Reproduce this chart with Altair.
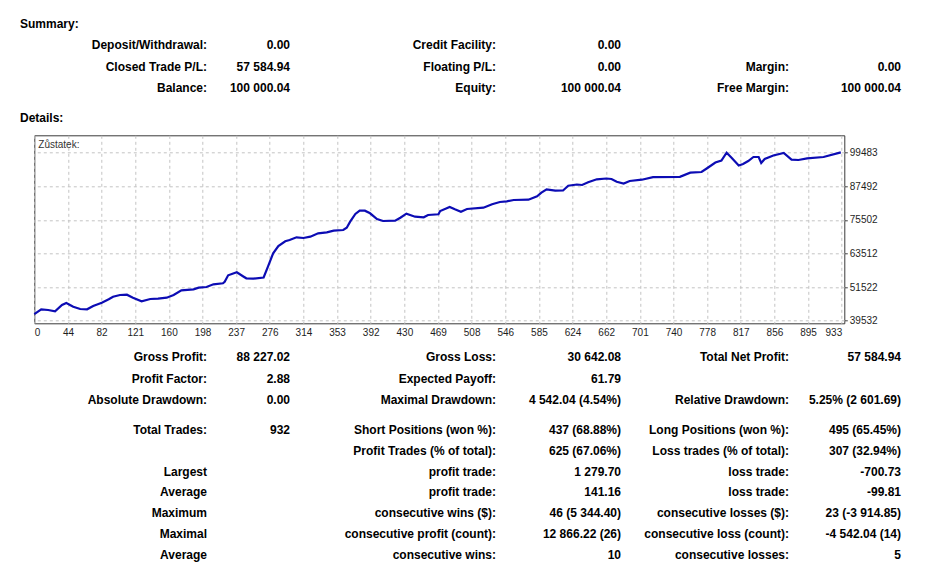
import altair as alt
import pandas as pd

# ---------------- data ----------------
TRADE = [0, 8, 16, 24, 32, 37, 45, 53, 61, 68, 78, 86, 91, 99, 107, 114, 124, 134, 143, 153,
         161, 170, 184, 190, 199, 207, 218, 220, 224, 234, 242, 245, 253, 265, 270, 276, 282,
         290, 295, 303, 311, 319, 328, 338, 346, 357, 361, 365, 371, 376, 382, 388, 396, 403,
         417, 423, 430, 440, 450, 455, 467, 469, 480, 486, 493, 500, 519, 529, 538, 546, 554,
         571, 581, 586, 592, 602, 611, 617, 627, 633, 640, 650, 661, 667, 673, 681, 688, 702,
         715, 746, 758, 771, 777, 787, 794, 800, 806, 814, 819, 825, 831, 837, 840, 844, 854,
         866, 875, 883, 893, 912, 932]
BALANCE = [41900, 43600, 43350, 42886, 45134, 45848, 44528, 43707, 43600, 44777, 45955, 47168,
           48096, 48703, 48810, 47739, 46455, 47275, 47382, 47739, 48703, 50380, 50737, 51308,
           51558, 52521, 52878, 53449, 55733, 56803, 55233, 54662, 54519, 54948, 58802, 63584,
           66188, 67866, 68330, 69293, 69043, 69507, 70721, 71077, 71648, 71898, 72719, 74860,
           77608, 78785, 78785, 77858, 75823, 75110, 75217, 76287, 77715, 76644, 76430, 77251,
           77501, 78678, 80106, 79285, 78428, 79392, 79856, 81069, 81890, 82140, 82604, 82711,
           83924, 85209, 86422, 85922, 85994, 87707, 88135, 87956, 88920, 89990, 90276, 90097,
           89134, 88492, 89384, 89848, 90740, 90883, 92346, 92595, 93844, 95986, 96699, 99483,
           97591, 94915, 95450, 96521, 97948, 97948, 95807, 97234, 98483, 99376, 96985, 96878,
           97484, 97948, 99600]

X_LABELS = [0, 44, 82, 121, 160, 198, 237, 276, 314, 353, 392, 430, 469, 508, 546, 585, 624,
            662, 701, 740, 778, 817, 856, 895, 933]
Y_TICKS = [39532, 51522, 63512, 75502, 87492, 99483]

CAPTION = "Zůstatek:"
HEADERS = ["Summary:", "Details:"]
SUMMARY = [
    ["Deposit/Withdrawal:", "0.00", "Credit Facility:", "0.00", "", ""],
    ["Closed Trade P/L:", "57 584.94", "Floating P/L:", "0.00", "Margin:", "0.00"],
    ["Balance:", "100 000.04", "Equity:", "100 000.04", "Free Margin:", "100 000.04"],
]
DETAILS = [
    ["Gross Profit:", "88 227.02", "Gross Loss:", "30 642.08", "Total Net Profit:", "57 584.94"],
    ["Profit Factor:", "2.88", "Expected Payoff:", "61.79", "", ""],
    ["Absolute Drawdown:", "0.00", "Maximal Drawdown:", "4 542.04 (4.54%)",
     "Relative Drawdown:", "5.25% (2 601.69)"],
    ["Total Trades:", "932", "Short Positions (won %):", "437 (68.88%)",
     "Long Positions (won %):", "495 (65.45%)"],
    ["", "", "Profit Trades (% of total):", "625 (67.06%)",
     "Loss trades (% of total):", "307 (32.94%)"],
    ["Largest", "", "profit trade:", "1 279.70", "loss trade:", "-700.73"],
    ["Average", "", "profit trade:", "141.16", "loss trade:", "-99.81"],
    ["Maximum", "", "consecutive wins ($):", "46 (5 344.40)",
     "consecutive losses ($):", "23 (-3 914.85)"],
    ["Maximal", "", "consecutive profit (count):", "12 866.22 (26)",
     "consecutive loss (count):", "-4 542.04 (14)"],
    ["Average", "", "consecutive wins:", "10", "consecutive losses:", "5"],
]

# ---------------- tables ----------------
bal_df = pd.DataFrame({"trade": TRADE, "balance": BALANCE})

# row index: 0 Summary header, 1-3 summary rows, 4 Details header, 5 caption, 6.. details
cells = []
for r, row in enumerate(SUMMARY):
    for c, t in enumerate(row):
        if t:
            cells.append({"row": 1 + r, "slot": c, "text": t})
for r, row in enumerate(DETAILS):
    for c, t in enumerate(row):
        if t:
            cells.append({"row": 6 + r, "slot": c, "text": t})
cells_df = pd.DataFrame(cells)
hdr_df = pd.DataFrame({"row": [0, 4], "slot": [-2, -2], "text": HEADERS})
cap_df = pd.DataFrame({"row": [5], "slot": [-1], "text": [CAPTION]})

# ---------------- layout ----------------
W, H = 810, 188
FONT = "Liberation Sans"

step = X_LABELS[-1] / (len(X_LABELS) - 1)
xtick_pos = [i * step for i in range(len(X_LABELS))]
label_expr = "[" + ",".join(str(v) for v in X_LABELS) + "][round(datum.value / %r)]" % step

grid_kw = dict(grid=True, gridDash=[3, 3], gridColor="#c4c4c4", gridWidth=1, domain=False,
               title=None, labelFont=FONT, labelFontSize=10, labelColor="#1e1e1e")

line = alt.Chart(bal_df).mark_line(color="#0c0cb4", strokeWidth=2.2).encode(
    x=alt.X("trade:Q", scale=alt.Scale(domain=[0, 936], nice=False, zero=False),
            axis=alt.Axis(values=xtick_pos, labelExpr=label_expr, ticks=False, labelPadding=4,
                          labelFlush=5, labelOverlap=False, **grid_kw)),
    y=alt.Y("balance:Q", scale=alt.Scale(domain=[38604, 105692], nice=False, zero=False),
            axis=alt.Axis(orient="right", values=Y_TICKS, format="d", tickSize=3,
                          tickColor="#444444", labelPadding=2, labelFlush=False,
                          labelOverlap=False, **grid_kw)),
)

# text placement scales (pixel positions relative to the plot frame)
xs = alt.Scale(domain=[-2, -1, 0, 1, 2, 3, 4, 5],
               range=[-14.3, 4, 172.7, 255.7, 461.7, 586.7, 754.7, 866.7], nice=False, zero=False)
ys = alt.Scale(domain=list(range(16)),
               range=[-111.3, -90.3, -68.3, -47.3, -17.3, 9.7,
                      221.7, 243.7, 264.7, 294.7, 315.7, 336.7, 356.7, 377.7, 398.7, 419.7],
               nice=False, zero=False)

def enc(ch):
    return ch.encode(x=alt.X("slot:Q", scale=xs, axis=None),
                     y=alt.Y("row:Q", scale=ys, axis=None),
                     text="text:N")

tbl = enc(alt.Chart(cells_df).mark_text(align="right", baseline="middle", font=FONT,
                                        fontSize=12, fontWeight="bold", color="#000000"))
hdr = enc(alt.Chart(hdr_df).mark_text(align="left", baseline="middle", font=FONT,
                                      fontSize=12, fontWeight="bold", color="#000000"))
cap = enc(alt.Chart(cap_df).mark_text(align="left", baseline="middle", font=FONT,
                                      fontSize=10, color="#333333"))

texts = alt.layer(tbl, hdr, cap)

chart = alt.layer(line, texts).resolve_scale(x="independent", y="independent").properties(
    width=W, height=H,
    autosize=alt.AutoSizeParams(type="none"),
    padding={"left": 26.3, "top": 127.3, "right": 90.7, "bottom": 246.7},
    background="white",
).configure_view(stroke="#3a3a3a", strokeWidth=1)

chart.save("out.html", embed_options={"renderer": "svg", "actions": False})
